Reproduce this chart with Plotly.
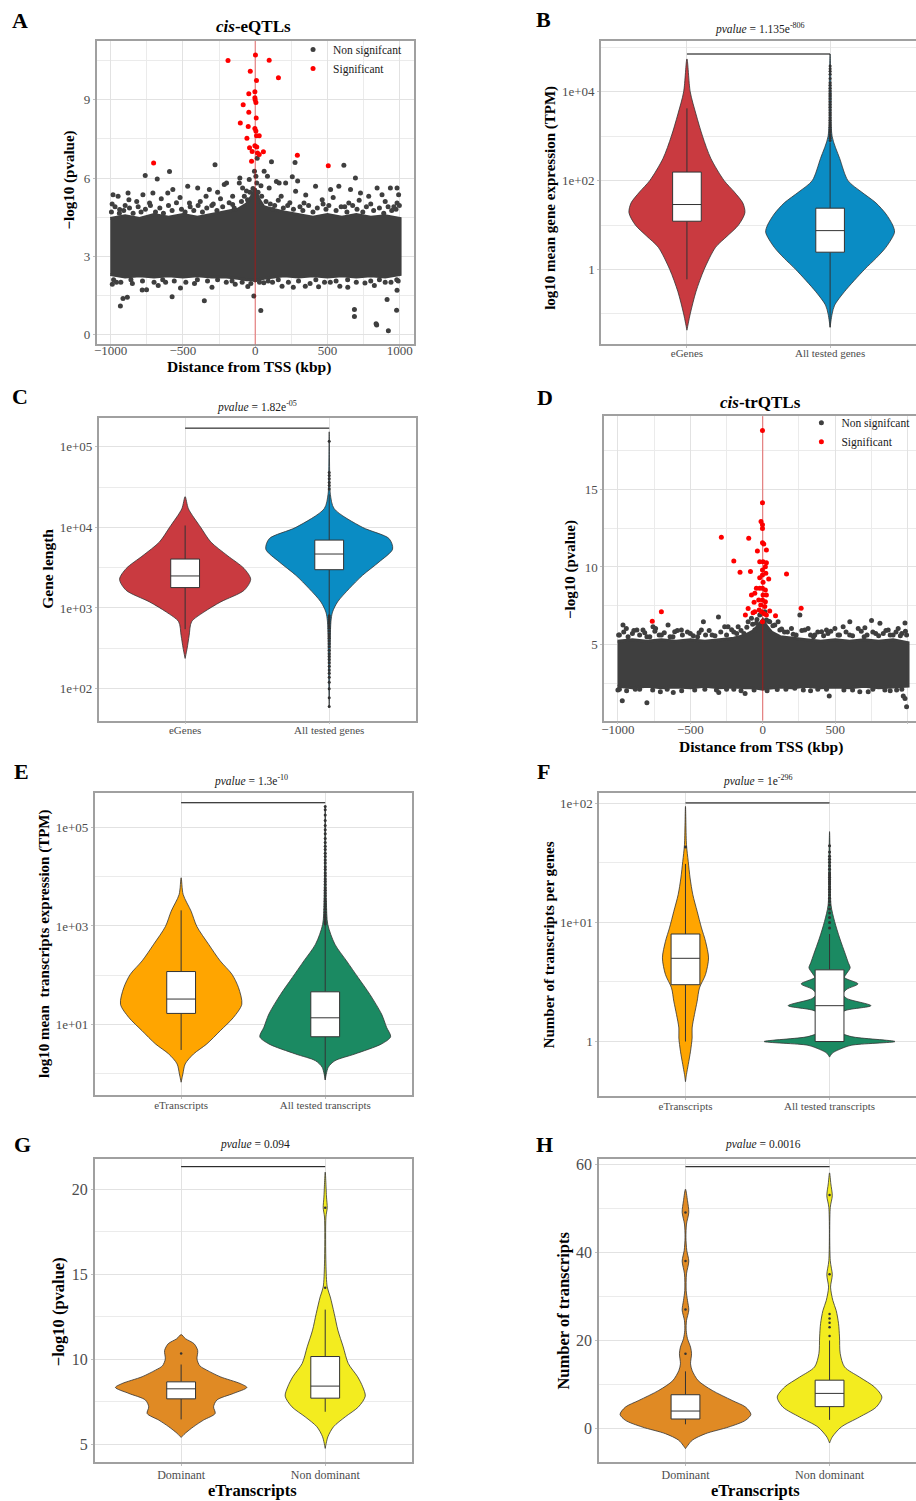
import plotly.graph_objects as go

FIG_W, FIG_H = 916, 1501
SERIF = "Liberation Serif, Times New Roman, serif"
GRID = "#e2e2e2"
MINOR = "#ebebeb"
FRAME = "#a0a0a0"
TICKC = "#4d4d4d"
OUTLINE = "#333333"
DARK = "#3f3f3f"
RED = "#ff0000"

# ---------------- data: panel A (cis-eQTLs) ----------------
TSS = 0
A_ENV_X = [-1003, -900, -800, -700, -600, -500, -400, -300, -200, -120, -60, -25, 0, 25, 60, 120, 200, 300, 400, 500, 600, 700, 800, 900, 1003]
A_ENV_HI = [4.45, 4.55, 4.45, 4.6, 4.5, 4.6, 4.5, 4.6, 4.7, 4.8, 5.0, 5.3, 5.6, 5.2, 4.9, 4.8, 4.7, 4.6, 4.5, 4.6, 4.5, 4.6, 4.5, 4.55, 4.45]
A_ENV_LO = [2.3, 2.2, 2.25, 2.2, 2.25, 2.2, 2.25, 2.2, 2.2, 2.15, 2.1, 2.1, 2.05, 2.1, 2.15, 2.2, 2.25, 2.2, 2.25, 2.2, 2.25, 2.2, 2.25, 2.2, 2.3]
A_NS_X = [-761, -678, -593, -278, 113, 276, 257, 294, 614, 694, 14,
          -984, -949, -880, -874, -777, -708, -605, -570, -467, -398, -317, -214, -156, -87, -53, 97, 166, 211, 280,
          418, 522, 579, 660, 729, 786, 844, 878, 936, 982, 993, 982, 648, 464, 338, -455, -731, -938, 120, -156,
          5, -5, 11, -41, 62, 85, 147, -198, -110, -106, -260, -340,
          -900, -820, -650, -520, -380, -240, -60, 40, 180, 350, 470, 540, 720, 800, 900, 960, -990, -300, 240, 620,
          -995, -970, -940, -910, -870, -845, -810, -790, -760, -725, -690, -660, -635, -600, -575, -545, -510, -485,
          -450, -425, -395, -365, -335, -290, -265, -225, -180, -145, -95, -75, -35, -15, 20, 45, 75, 105, 135, 160,
          195, 225, 265, 310, 330, 370, 400, 430, 490, 510, 560, 595, 635, 675, 705, 745, 770, 820, 860, 890, 920,
          945, 975, 998,
          -933, -915, -885, -575, -352, -9, 39, 687, 687, 837, 841, 922, 913, 979, 982, 641, 264, 347, -782, -752,
          -671, -517, -299, -138, -51, 186, 439, 586, 825, -989,
          -960, -850, -620, -420, -200, 60, 120, 380, 520, 760, 900, 990,
          -980, -930, -860, -780, -700, -640, -560, -480, -400, -330, -260, -160, -90, -30, 30, 90, 160, 230, 300,
          420, 480, 560, 640, 700, 800, 860, 940, 980]
A_NS_Y = [6.10, 5.96, 6.25, 6.51, 6.62, 6.60, 6.05, 5.89, 6.49, 6.00, 6.76,
          5.36, 5.30, 5.43, 5.17, 5.36, 5.43, 5.43, 5.56, 5.68, 5.62, 5.56, 5.75, 5.30, 5.62, 5.17, 5.62, 5.81, 5.81, 5.49,
          5.68, 5.56, 5.68, 5.56, 5.43, 5.30, 5.62, 5.36, 5.62, 5.62, 5.36, 5.04, 5.04, 5.17, 5.04, 5.04, 5.04, 4.79, 4.79, 4.98,
          6.07, 6.26, 5.81, 5.94, 6.26, 6.07, 5.87, 5.81, 5.81, 6.00, 5.45, 5.30,
          4.95, 5.10, 5.20, 5.25, 5.10, 5.20, 5.50, 5.70, 5.30, 5.35, 5.00, 5.25, 5.15, 5.00, 5.10, 4.90, 5.00, 4.95, 5.05, 4.90,
          4.70, 4.90, 4.65, 4.75, 4.85, 4.65, 4.90, 4.70, 4.80, 4.95, 4.70, 4.85, 4.65, 4.95, 4.75, 5.05, 4.80, 4.70,
          4.90, 4.75, 4.95, 4.70, 4.85, 5.00, 4.75, 4.90, 5.05, 4.85, 5.10, 5.30, 5.45, 5.60, 5.45, 5.30, 5.10, 5.00, 4.95, 5.15,
          4.85, 4.95, 4.80, 4.90, 4.75, 4.95, 4.70, 4.85, 4.80, 4.95, 4.75, 4.90, 4.70, 4.95, 4.80, 4.70, 4.90, 4.75, 4.85, 4.65, 4.90,
          4.75, 4.80, 4.95,
          1.09, 1.38, 1.43, 1.44, 1.29, 1.47, 0.92, 0.96, 0.69, 0.41, 0.36, 0.14, 1.34, 0.93, 1.69, 1.81, 1.81, 1.85, 1.70, 1.71,
          1.88, 1.78, 1.81, 1.92, 1.84, 1.85, 1.83, 1.85, 1.88, 1.92,
          2.00, 1.95, 2.00, 1.95, 2.00, 1.98, 2.00, 1.95, 2.00, 1.97, 2.00, 2.05,
          2.10, 2.00, 2.10, 2.05, 2.00, 2.10, 2.05, 2.00, 2.10, 2.05, 2.10, 2.05, 2.00, 1.95, 2.00, 2.05, 2.10, 2.00, 2.05,
          2.10, 2.00, 2.05, 2.10, 2.00, 2.05, 2.10, 2.00, 2.10]
A_SIG_X = [-188, 2, 97, -34, 161, 9, -2, -44, -2, 0, 5, -83, -44, -103, 7, -48, -2, 5, -57, 9, 28, -39, -2, 11, 57, -21, 16, 28, -25, -703, 292, 506]
A_SIG_Y = [10.51, 10.72, 10.52, 10.10, 9.85, 9.74, 9.31, 9.23, 9.08, 9.00, 8.90, 8.81, 8.52, 8.11, 8.30, 7.98, 7.90, 7.80, 7.53, 7.62, 7.62, 7.16, 7.24, 7.19, 7.01, 7.02, 6.96, 6.90, 6.64, 6.58, 6.87, 6.47]

# ---------------- data: panel D (cis-trQTLs) ----------------
D_ENV_X = [-1003, -900, -800, -700, -600, -500, -400, -300, -200, -120, -60, -25, 0, 25, 60, 120, 200, 300, 400, 500, 600, 700, 800, 900, 1003]
D_ENV_HI = [5.2, 5.3, 5.2, 5.3, 5.2, 5.3, 5.2, 5.3, 5.4, 5.6, 5.9, 6.3, 6.6, 6.2, 5.8, 5.5, 5.4, 5.3, 5.2, 5.3, 5.2, 5.3, 5.2, 5.3, 5.1]
D_ENV_LO = [2.3, 2.2, 2.3, 2.2, 2.25, 2.2, 2.3, 2.2, 2.25, 2.2, 2.2, 2.15, 2.1, 2.15, 2.2, 2.25, 2.2, 2.3, 2.2, 2.25, 2.2, 2.3, 2.2, 2.25, 2.3]
D_NS_X = [-965, -942, -869, -827, -758, -740, -654, -562, -608, -424, -410, -306, -263, -240, -170, -101, -78, -44, 48, 83,
          118, 198, 256, 290, 313, 406, 440, 498, 555, 601, 659, 705, 751, 809, 866, 935, 982, 993, 832, 359,
          -55, 106, 25, -21, 14,
          -990, -900, -800, -700, -500, -350, -200, -130, 150, 230, 350, 450, 600, 700, 780, 900, 960, -620, -450, 520,
          -995, -960, -930, -890, -850, -815, -780, -745, -715, -680, -640, -590, -555, -520, -480, -440, -395, -370,
          -330, -290, -250, -215, -180, -150, -110, -70, -40, 40, 70, 130, 170, 210, 270, 330, 380, 420, 470, 530, 575,
          620, 680, 720, 760, 800, 850, 880, 920, 950, 985,
          -970, -800, -304, -122, 459, 970, 982, 993, -1000, -707, -618, 670, 728, 843, 924, -470, 221, -880, -200, 100, 380, 560,
          -990, -940, -850, -760, -660, -560, -400, -320, -250, -150, -60, 30, 160, 280, 330, 440, 620, 760, 880, 960]
D_NS_Y = [6.25, 6.03, 5.93, 5.93, 6.14, 6.03, 6.25, 5.93, 5.82, 5.93, 6.47, 6.77, 6.14, 6.14, 6.14, 6.47, 6.68, 6.36, 6.47, 6.25,
          5.93, 6.03, 6.90, 5.93, 6.03, 5.82, 5.93, 6.03, 6.14, 6.47, 6.03, 6.08, 6.55, 6.36, 5.93, 6.03, 6.38, 5.60, 5.71, 5.60,
          5.93, 6.47, 6.57, 6.90, 7.11,
          5.6, 5.7, 5.5, 5.6, 5.7, 5.6, 5.8, 5.7, 5.8, 5.6, 5.5, 5.7, 5.6, 5.5, 5.7, 5.6, 5.7, 5.5, 5.5, 5.6,
          5.6, 5.8, 5.5, 5.9, 5.6, 5.75, 5.5, 5.85, 5.6, 5.75, 5.5, 5.9, 5.6, 5.8, 5.55, 5.75, 5.6, 5.9,
          5.55, 5.8, 5.6, 5.95, 5.7, 5.9, 6.1, 6.3, 6.6, 6.5, 6.2, 6.0, 5.8, 5.65, 5.9, 5.6, 5.8, 5.55, 5.85, 5.6, 5.8,
          5.55, 5.85, 5.6, 5.8, 5.55, 5.9, 5.6, 5.8, 5.55, 5.85,
          1.36, 1.23, 1.90, 1.83, 1.66, 1.66, 1.51, 0.97, 2.05, 1.94, 1.90, 1.94, 1.94, 2.05, 2.05, 2.05, 2.16, 2.10, 2.10, 2.08, 2.10, 2.05,
          2.1, 2.0, 2.1, 2.05, 2.1, 2.0, 2.1, 2.05, 2.1, 2.0, 2.05, 2.0, 2.1, 2.05, 2.0, 2.1, 2.05, 2.1, 2.0, 2.1]
D_SIG_X = [-2, -2, -12, -2, -2, -286, -97, -2, 7, -37, 25, -200, -21, 2, 25, 18, -2, 21, -157, -85, 164, -2, -21, 41, 2,
           -44, -21, -2, 18, -78, -55, 2, 25, -28, -2, 18, -60, -101, -14, 14, -55, -67, -9, 7, 48, -120, 88, -2, 265, -763, -700, -25, 25]
D_SIG_Y = [18.81, 14.14, 12.93, 12.72, 12.48, 11.92, 11.85, 11.57, 11.49, 11.03, 11.10, 10.39, 10.34, 10.34, 10.28, 10.02, 9.81, 9.59, 9.66, 9.70, 9.55, 9.48, 9.31, 9.22, 9.01,
           8.62, 8.62, 8.62, 8.51, 8.19, 8.30, 8.19, 8.19, 7.87, 7.87, 7.76, 7.72, 7.31, 7.54, 7.44, 7.11, 7.05, 7.11, 7.00, 7.16, 6.90, 6.85, 6.47, 7.33, 6.49, 7.11, 7.22, 6.90]

# ---------------- data: panel B ----------------
B_CATS = ["eGenes", "All tested genes"]
B_EG_LV = [55000, 10000, 3160, 1000, 316, 100, 56, 31.6, 19, 10, 5.6, 3.16, 1, 0.316, 0.1, 0.043]
B_EG_W = [0, 0.023, 0.063, 0.109, 0.167, 0.26, 0.33, 0.39, 0.405, 0.36, 0.28, 0.2, 0.12, 0.063, 0.023, 0]
B_ALL_LV = [70800, 10000, 1000, 316, 100, 56, 31.6, 17.8, 10, 6.9, 3.16, 1.78, 1, 0.316, 0.158, 0.1, 0.05]
B_ALL_W = [0, 0.007, 0.014, 0.067, 0.125, 0.218, 0.32, 0.39, 0.437, 0.45, 0.39, 0.32, 0.24, 0.10, 0.032, 0.014, 0]
B_EG_BOX = [12.2, 29, 156, 0.6, 4250]
B_ALL_BOX = [2.45, 7.5, 24, 0.05, 724]
B_ALL_OUT = [800, 900, 1000, 1100, 1250, 1400, 1600, 1800, 2000, 2300, 2600, 3000, 3400, 3900, 4500, 5200, 6000, 7000,
             8000, 9000, 10500, 12000, 14000, 16000, 20000, 25000, 29000, 33000, 38000]
B_BRACKET = 71000

# ---------------- data: panel C ----------------
C_CATS = ["eGenes", "All tested genes"]
C_EG_LV = [24000, 17000, 10000, 6600, 4470, 3090, 2270, 1660, 1190, 890, 676, 457, 316, 237]
C_EG_W = [0, 0.023, 0.108, 0.178, 0.293, 0.409, 0.455, 0.41, 0.247, 0.13, 0.045, 0.028, 0.014, 0]
C_ALL_LV = [153000, 50000, 25700, 17000, 10000, 7240, 5370, 3720, 2540, 1740, 1190, 890, 676, 200, 60]
C_ALL_W = [0, 0.003, 0.008, 0.035, 0.231, 0.416, 0.44, 0.346, 0.231, 0.139, 0.058, 0.023, 0.012, 0.005, 0]
C_EG_BOX = [1790, 2495, 4045, 546, 10550]
C_ALL_BOX = [2985, 4670, 6950, 813, 25700]
C_ALL_OUT = [800, 760, 720, 680, 640, 600, 560, 520, 480, 450, 420, 390, 360, 330, 300, 270, 251, 230, 209, 190,
             170, 155, 138, 120, 100, 77, 60, 30000, 33000, 36000, 40000, 44000, 48000, 117000]
C_BRACKET = 170000

# ---------------- data: panel E ----------------
E_CATS = ["eTranscripts", "All tested transcripts"]
E_ET_LV = [9550, 4370, 2000, 977, 427, 195, 105, 56, 25.7, 13.8, 7.4, 4.0, 2.5, 1.57, 0.98, 0.667]
E_ET_W = [0, 0.014, 0.069, 0.109, 0.19, 0.271, 0.352, 0.398, 0.421, 0.363, 0.271, 0.178, 0.086, 0.028, 0.012, 0]
E_ALL_LV = [270000, 3160, 1070, 427, 195, 89, 40.7, 16.2, 8.7, 5.6, 4.0, 2.5, 1.82, 1.34, 0.745]
E_ALL_W = [0, 0.008, 0.018, 0.067, 0.148, 0.229, 0.31, 0.391, 0.426, 0.454, 0.391, 0.206, 0.067, 0.021, 0]
E_ET_BOX = [16.7, 32.7, 118.6, 3.02, 2080]
E_ALL_BOX = [5.6, 13.6, 45.9, 0.745, 1070]
E_ALL_OUT = [1100, 1200, 1350, 1500, 1700, 1900, 2200, 2500, 2800, 3200, 3600, 4100, 4700, 5300, 6000, 7000, 8000,
             9000, 10500, 12000, 14000, 16000, 19000, 22000, 26000, 30000, 36000, 42000, 50000, 60000, 75000, 90000,
             110000, 140000, 180000, 230000, 270000]
E_BRACKET = 320000

# ---------------- data: panel F ----------------
F_CATS = ["eTranscripts", "All tested transcripts"]
F_ET_LV = [94.4, 45, 32.6, 23.6, 17.1, 12.4, 9.0, 6.95, 5.04, 3.65, 2.82, 2.18, 1.69, 1.3, 1.07, 0.83, 0.64, 0.53, 0.46]
F_ET_W = [0, 0.007, 0.019, 0.032, 0.051, 0.081, 0.111, 0.139, 0.16, 0.139, 0.097, 0.081, 0.0625, 0.046, 0.046, 0.035, 0.019, 0.007, 0]
F_ALL_LV = [58, 30, 14, 10.2, 7.4, 5.4, 4.6, 4.16, 3.75, 3.45, 3.05, 2.75, 2.5, 2.3, 2.0, 1.8, 1.58, 1.3, 1.2, 1.1, 1.0, 0.93, 0.86, 0.8, 0.74]
F_ALL_W = [0, 0.005, 0.01, 0.035, 0.07, 0.11, 0.13, 0.143, 0.12, 0.104, 0.197, 0.12, 0.093, 0.12, 0.287, 0.1, 0.069, 0.058, 0.07, 0.15, 0.454, 0.15, 0.07, 0.02, 0]
F_ET_BOX = [3, 5, 8, 1, 31]
F_ALL_BOX = [1, 2, 4, 1, 8]
F_ET_OUT = [43]
F_ALL_OUT = [9, 10, 11, 12, 13, 14, 15, 16, 17, 18, 19, 20, 21, 22, 23, 24, 25, 26, 28, 30, 32, 34, 36, 39, 44]
F_BRACKET = 101

# ---------------- data: panel G ----------------
G_CATS = ["Dominant", "Non dominant"]
G_DOM_LV = [11.44, 11.2, 10.9, 10.5, 10.0, 9.6, 9.35, 8.96, 8.56, 8.33, 7.98, 7.59, 7.19, 6.8, 6.41, 6.02, 5.63, 5.39]
G_DOM_W = [0, 0.03, 0.09, 0.115, 0.11, 0.13, 0.178, 0.271, 0.41, 0.456, 0.363, 0.248, 0.225, 0.236, 0.155, 0.086, 0.028, 0]
G_ND_LV = [21.0, 19.53, 18.9, 18.36, 15.6, 14.24, 13.66, 12.68, 11.7, 10.72, 9.74, 8.96, 8.37, 7.82, 7.19, 6.6, 6.02, 5.43, 4.745]
G_ND_W = [0, 0.009, 0.014, 0.005, 0.005, 0.014, 0.035, 0.0625, 0.088, 0.125, 0.16, 0.225, 0.26, 0.278, 0.231, 0.139, 0.058, 0.0185, 0]
G_DOM_BOX = [7.66, 8.25, 8.66, 6.45, 9.68]
G_ND_BOX = [7.7, 8.41, 10.15, 6.9, 12.91]
G_DOM_OUT = [10.33]
G_ND_OUT = [14.2, 18.9]
G_BRACKET = 21.32

# ---------------- data: panel H ----------------
H_CATS = ["Dominant", "Non dominant"]
H_DOM_LV = [54.3, 51.7, 49.06, 46.4, 43.4, 40.4, 38.0, 35.1, 31.3, 29.05, 26.9, 24.5, 22.3, 20.4, 18.5, 17.0, 14.7, 13.2,
            10.9, 8.68, 6.4, 4.9, 3.25, 1.9, 0.38, -1.13, -2.64, -4.53]
H_DOM_W = [0, 0.014, 0.023, 0.007, 0.003, 0.009, 0.023, 0.007, 0.005, 0.014, 0.023, 0.007, 0.005, 0.014, 0.035, 0.042, 0.035, 0.046,
           0.088, 0.185, 0.324, 0.417, 0.454, 0.417, 0.30, 0.139, 0.046, 0]
H_ND_LV = [58, 55.5, 52.8, 50.2, 38.1, 34.9, 32.1, 29.05, 26.8, 23.8, 20.8, 17.0, 14.0, 11.7, 9.43, 7.17, 4.9, 2.64, 0.38, -1.89, -3.25]
H_ND_W = [0, 0.009, 0.019, 0.005, 0.005, 0.019, 0.007, 0.023, 0.046, 0.0625, 0.069, 0.074, 0.104, 0.208, 0.3125, 0.363, 0.324, 0.208, 0.081, 0.0185, 0]
H_DOM_BOX = [2.2, 4, 7.7, 1, 13]
H_ND_BOX = [5, 8, 11, 2, 20]
H_DOM_OUT = [17, 27, 38, 49]
H_ND_OUT = [21, 23, 24, 25, 26, 35, 53]
H_BRACKET = 59.4

# ---------------- colours ----------------
C_RED, C_BLUE = "#c93a40", "#0a8cc4"
C_ORANGE, C_GREEN = "#ffa500", "#1b8a62"
C_DKORANGE, C_YELLOW = "#e08a24", "#f3ec1f"

# ---------------- layout helpers ----------------
FRAMES = {
    "A": (94, 38, 412, 342), "B": (600, 38, 916, 342),
    "C": (96, 416, 414, 719), "D": (603, 414, 916, 719),
    "E": (92, 792, 410, 1094), "F": (598, 792, 916, 1095),
    "G": (92, 1158, 410, 1462), "H": (598, 1158, 916, 1462),
}
XLABEL_SHIFT = {"A": -9, "B": -4, "C": -4, "D": -6, "E": -3, "F": -3, "G": -1, "H": -1}
AXID = {"A": "", "B": "2", "C": "3", "D": "4", "E": "5", "F": "6", "G": "7", "H": "8"}
BOX_HALF = 0.1

def px(x):
    return x / FIG_W

def py(y):
    return 1 - y / FIG_H

traces = []

def ax_kw(p):
    return dict(xaxis="x" + AXID[p], yaxis="y" + AXID[p])

def add_violin(p, pos, levels, widths, color):
    xs = [pos + w for w in widths] + [pos - w for w in reversed(widths)]
    ys = list(levels) + list(reversed(levels))
    traces.append(go.Scatter(x=xs, y=ys, mode="lines", fill="toself", fillcolor=color,
                             line=dict(color=OUTLINE, width=0.8, shape="spline", smoothing=0.8),
                             showlegend=False, hoverinfo="skip", **ax_kw(p)))

def add_box(p, pos, stats):
    q1, med, q3, lo, hi = stats
    kw = dict(showlegend=False, hoverinfo="skip", **ax_kw(p))
    traces.append(go.Scatter(x=[pos, pos, None, pos, pos], y=[lo, q1, None, q3, hi], mode="lines",
                             line=dict(color=OUTLINE, width=1), **kw))
    traces.append(go.Scatter(x=[pos - BOX_HALF, pos + BOX_HALF, pos + BOX_HALF, pos - BOX_HALF, pos - BOX_HALF],
                             y=[q1, q1, q3, q3, q1], mode="lines", fill="toself", fillcolor="white",
                             line=dict(color=OUTLINE, width=1), **kw))
    traces.append(go.Scatter(x=[pos - BOX_HALF, pos + BOX_HALF], y=[med, med], mode="lines",
                             line=dict(color=OUTLINE, width=1), **kw))

def add_outliers(p, pos, vals, size=3):
    traces.append(go.Scatter(x=[pos] * len(vals), y=vals, mode="markers",
                             marker=dict(color=OUTLINE, size=size), showlegend=False, hoverinfo="skip", **ax_kw(p)))

def add_bracket(p, yval):
    traces.append(go.Scatter(x=[1, 2], y=[yval, yval], mode="lines", line=dict(color="black", width=1),
                             showlegend=False, hoverinfo="skip", **ax_kw(p)))

def add_manhattan(p, ex, hi, lo, nsx, nsy, sx, sy, legend):
    traces.append(go.Scatter(x=list(ex) + list(reversed(ex)), y=list(hi) + list(reversed(lo)), mode="lines",
                             fill="toself", fillcolor=DARK, line=dict(color=DARK, width=3),
                             showlegend=False, hoverinfo="skip", **ax_kw(p)))
    traces.append(go.Scatter(x=nsx, y=nsy, mode="markers", marker=dict(color=DARK, size=5),
                             name="Non signifcant", legend=legend, hoverinfo="skip", **ax_kw(p)))
    traces.append(go.Scatter(x=sx, y=sy, mode="markers", marker=dict(color=RED, size=5),
                             name="Significant", legend=legend, hoverinfo="skip", **ax_kw(p)))

# ---------------- build traces ----------------
add_manhattan("A", A_ENV_X, A_ENV_HI, A_ENV_LO, A_NS_X, A_NS_Y, A_SIG_X, A_SIG_Y, "legend")
add_manhattan("D", D_ENV_X, D_ENV_HI, D_ENV_LO, D_NS_X, D_NS_Y, D_SIG_X, D_SIG_Y, "legend2")

VIOLIN_PANELS = [
    ("B", (B_EG_LV, B_EG_W, C_RED, B_EG_BOX, []), (B_ALL_LV, B_ALL_W, C_BLUE, B_ALL_BOX, B_ALL_OUT), B_BRACKET),
    ("C", (C_EG_LV, C_EG_W, C_RED, C_EG_BOX, []), (C_ALL_LV, C_ALL_W, C_BLUE, C_ALL_BOX, C_ALL_OUT), C_BRACKET),
    ("E", (E_ET_LV, E_ET_W, C_ORANGE, E_ET_BOX, []), (E_ALL_LV, E_ALL_W, C_GREEN, E_ALL_BOX, E_ALL_OUT), E_BRACKET),
    ("F", (F_ET_LV, F_ET_W, C_ORANGE, F_ET_BOX, F_ET_OUT), (F_ALL_LV, F_ALL_W, C_GREEN, F_ALL_BOX, F_ALL_OUT), F_BRACKET),
    ("G", (G_DOM_LV, G_DOM_W, C_DKORANGE, G_DOM_BOX, G_DOM_OUT), (G_ND_LV, G_ND_W, C_YELLOW, G_ND_BOX, G_ND_OUT), G_BRACKET),
    ("H", (H_DOM_LV, H_DOM_W, C_DKORANGE, H_DOM_BOX, H_DOM_OUT), (H_ND_LV, H_ND_W, C_YELLOW, H_ND_BOX, H_ND_OUT), H_BRACKET),
]
for p, g1, g2, br in VIOLIN_PANELS:
    for pos, (lv, w, col, box, out) in ((1, g1), (2, g2)):
        add_violin(p, pos, lv, w, col)
    for pos, (lv, w, col, box, out) in ((1, g1), (2, g2)):
        add_box(p, pos, box)
        if out:
            add_outliers(p, pos, out, size=3 if p not in ("G", "H") else 2.5)
    add_bracket(p, br)

fig = go.Figure(traces)

# ---------------- axes ----------------
def make_axes(p, xr, yr, xtv, xtt, ytv, ytt, xminor, yminor, ylog=False, tick_size=13, cat_size=11, right=False):
    l, t, r, b = FRAMES[p]
    n = AXID[p]
    base = dict(showline=True, linecolor=FRAME, linewidth=1.6, ticks="outside", ticklen=2, tickcolor="#c0c0c0",
                tickwidth=1, showgrid=True, gridcolor=GRID, gridwidth=1, zeroline=False, fixedrange=True)
    xa = dict(base, domain=[px(l), px(r)], range=xr, anchor="y" + n, mirror=True, tickmode="array",
              tickvals=xtv, ticktext=xtt, tickfont=dict(family=SERIF, size=cat_size, color=TICKC),
              ticklabelstandoff=XLABEL_SHIFT[p])
    if xminor:
        xa["minor"] = dict(tickmode="array", tickvals=xminor, showgrid=True, gridcolor=MINOR, gridwidth=0.7, ticks="")
    ya = dict(base, domain=[py(b), py(t)], range=yr, anchor="x" + n, mirror=not right, tickmode="array",
              tickvals=ytv, ticktext=ytt, tickfont=dict(family=SERIF, size=tick_size, color=TICKC))
    if ylog:
        ya["type"] = "log"
    if yminor:
        ya["minor"] = dict(tickmode="array", tickvals=yminor, showgrid=True, gridcolor=MINOR, gridwidth=0.7, ticks="")
    return {"xaxis" + n: xa, "yaxis" + n: ya}

MH_X = [-1000, -500, 0, 500, 1000]
MH_XT = ["\u22121000", "\u2212500", "0", "500", "1000"]
MH_XMINOR = [-750, -250, 250, 750]

axes = {}
axes.update(make_axes("A", [-1097, 1097], [-0.38, 11.26], MH_X, MH_XT, [0, 3, 6, 9], ["0", "3", "6", "9"],
                      MH_XMINOR, [1.5, 4.5, 7.5, 10.5], cat_size=13))
axes.update(make_axes("D", [-1096, 1058], [0.08, 19.74], MH_X, MH_XT, [5, 10, 15], ["5", "10", "15"],
                      MH_XMINOR, [2.5, 7.5, 12.5, 17.5], cat_size=13, right=True))
axes.update(make_axes("B", [0.4, 2.6], [-1.685, 5.146], [1, 2], B_CATS, [1, 100, 10000], ["1", "1e+02", "1e+04"],
                      None, [0.1, 10, 1000, 100000], ylog=True, right=True))
axes.update(make_axes("C", [0.4, 2.6], [1.604, 5.354], [1, 2], C_CATS, [100, 1000, 10000, 100000],
                      ["1e+02", "1e+03", "1e+04", "1e+05"], None, [316.2, 3162, 31623], ylog=True))
axes.update(make_axes("E", [0.4, 2.6], [-0.432, 5.695], [1, 2], E_CATS, [10, 1000, 100000],
                      ["1e+01", "1e+03", "1e+05"], None, [1, 100, 10000], ylog=True))
axes.update(make_axes("F", [0.4, 2.6], [-0.456, 2.084], [1, 2], F_CATS, [1, 10, 100], ["1", "1e+01", "1e+02"],
                      None, [3.162, 31.62], ylog=True, right=True))
axes.update(make_axes("G", [0.4, 2.6], [3.94, 21.79], [1, 2], G_CATS, [5, 10, 15, 20], ["5", "10", "15", "20"],
                      None, [7.5, 12.5, 17.5], tick_size=16, cat_size=12))
axes.update(make_axes("H", [0.4, 2.6], [-7.57, 61.22], [1, 2], H_CATS, [0, 20, 40, 60], ["0", "20", "40", "60"],
                      None, [10, 30, 50], tick_size=16, cat_size=12, right=True))

# ---------------- annotations ----------------
ann = []

def text(x, y, s, size, angle=0, color="black"):
    ann.append(dict(x=px(x), y=py(y), xref="paper", yref="paper", text=s, showarrow=False, textangle=angle,
                    xanchor="center", yanchor="middle", font=dict(family=SERIF, size=size, color=color)))

for letter, (lx, ly) in {"A": (17, 18), "B": (542, 17), "C": (17.5, 394), "D": (543.5, 395),
                         "E": (18.5, 770), "F": (542, 770), "G": (19.5, 1144), "H": (543.5, 1144)}.items():
    text(lx, ly, "<b>%s</b>" % letter, 22)

text(251, 24, "<b><i>cis</i>-eQTLs</b>", 17)
text(760, 400, "<b><i>cis</i>-trQTLs</b>", 17)

PV = "<i>pvalue</i> = "
text(759, 26, PV + "1.135e<sup>-806</sup>", 11.5, color="#1a1a1a")
text(255, 404, PV + "1.82e<sup>-05</sup>", 11.5, color="#1a1a1a")
text(249, 779, PV + "1.3e<sup>-10</sup>", 11.5, color="#1a1a1a")
text(757, 779, PV + "1e<sup>-296</sup>", 11.5, color="#1a1a1a")
text(253, 1144, PV + "0.094", 11.5, color="#1a1a1a")
text(762, 1144, PV + "0.0016", 11.5, color="#1a1a1a")

text(67, 177, "<b>\u2212log10 (pvalue)</b>", 15, -90)
text(247, 365, "<b>Distance from TSS (kbp)</b>", 15.5)
text(549, 195, "<b>log10 mean gene expression (TPM)</b>", 15, -90)
text(45, 567, "<b>Gene length</b>", 15.5, -90)
text(570, 568, "<b>\u2212log10 (pvalue)</b>", 15, -90)
text(760, 745, "<b>Distance from TSS (kbp)</b>", 15.5)
text(41, 943, "<b>log10 mean  transcripts expression (TPM)</b>", 15, -90)
text(548, 944, "<b>Number of transcripts per genes</b>", 15, -90)
text(56, 1311, "<b>\u2212log10 (pvalue)</b>", 16.5, -90)
text(250, 1490, "<b>eTranscripts</b>", 16.5)
text(562, 1310, "<b>Number of transcripts</b>", 16.5, -90)
text(755, 1490, "<b>eTranscripts</b>", 16.5)

# ---------------- TSS reference lines ----------------
shapes = []
for p in ("A", "D"):
    n = AXID[p]
    shapes.append(dict(type="line", xref="x" + n, yref="y%s domain" % n, x0=TSS, x1=TSS, y0=0, y1=1,
                       line=dict(color="rgba(230,0,0,0.55)", width=1), layer="above"))

LEG = dict(bgcolor="rgba(0,0,0,0)", xanchor="left", yanchor="top", itemwidth=30, tracegroupgap=0,
           font=dict(family=SERIF, size=11.5, color="#1a1a1a"), traceorder="normal")

fig.update_layout(
    width=FIG_W, height=FIG_H, margin=dict(l=0, r=0, t=0, b=0),
    paper_bgcolor="white", plot_bgcolor="white", showlegend=True,
    legend=dict(LEG, x=px(291), y=py(32)),
    legend2=dict(LEG, x=px(801), y=py(406)),
    annotations=ann, shapes=shapes, **axes,
)

fig.write_html("out.html", config={"displayModeBar": False},
               post_script="document.body.style.margin='0';document.body.style.overflow='hidden';")
